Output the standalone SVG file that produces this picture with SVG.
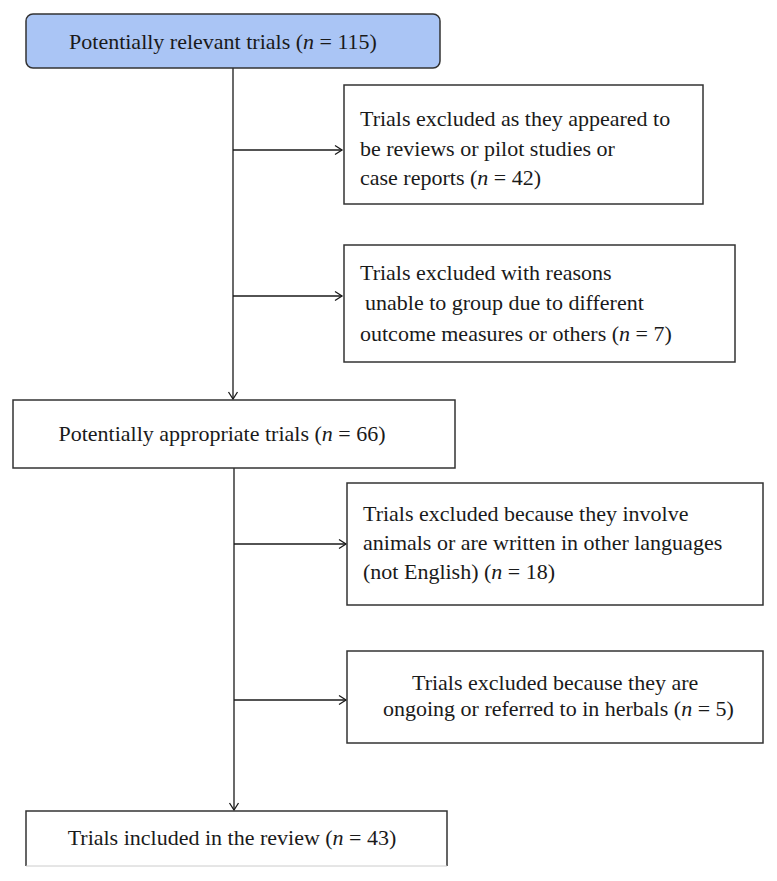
<svg xmlns="http://www.w3.org/2000/svg" width="777" height="881" viewBox="0 0 777 881">
<style>
.box{fill:#fff;stroke:#333;stroke-width:1.5}
.start{fill:#aac5f5;stroke:#333;stroke-width:1.5}
.t{font-family:"Liberation Serif","Times New Roman",serif;font-size:22px;fill:#1a1a1a}
.c{text-anchor:middle}
.ln{stroke:#1a1a1a;stroke-width:1.3;fill:none}
</style>
<defs>
<marker id="ah" markerUnits="userSpaceOnUse" markerWidth="12" markerHeight="12" viewBox="0 0 12 12" refX="10" refY="6" orient="auto">
<path d="M3,1.5 L10,6 L3,10.5" fill="none" stroke="#1a1a1a" stroke-width="1.3"/>
</marker>
</defs>
<g id="connectors">
<line class="ln" x1="233" y1="68" x2="233" y2="399" marker-end="url(#ah)"/>
<line class="ln" x1="233" y1="150" x2="342" y2="150" marker-end="url(#ah)"/>
<line class="ln" x1="233" y1="296" x2="342" y2="296" marker-end="url(#ah)"/>
<line class="ln" x1="234" y1="468" x2="234" y2="810" marker-end="url(#ah)"/>
<line class="ln" x1="234" y1="544" x2="346" y2="544" marker-end="url(#ah)"/>
<line class="ln" x1="234" y1="700" x2="346" y2="700" marker-end="url(#ah)"/>
</g>
<g id="n1">
<rect class="start" x="26" y="14" width="414" height="54" rx="7"/>
<text class="t c" x="223" y="49">Potentially relevant trials (<tspan font-style="italic">n</tspan> = 115)</text>
</g>
<g id="n2">
<rect class="box" x="344" y="85" width="359" height="119"/>
<text class="t" x="360" y="126">Trials excluded as they appeared to</text>
<text class="t" x="360" y="156">be reviews or pilot studies or</text>
<text class="t" x="360" y="185">case reports (<tspan font-style="italic">n</tspan> = 42)</text>
</g>
<g id="n3">
<rect class="box" x="344" y="245" width="391" height="117"/>
<text class="t" x="360" y="280">Trials excluded with reasons</text>
<text class="t" x="365" y="310">unable to group due to different</text>
<text class="t" x="360" y="341">outcome measures or others (<tspan font-style="italic">n</tspan> = 7)</text>
</g>
<g id="n4">
<rect class="box" x="13" y="400" width="442" height="68"/>
<text class="t c" x="222" y="441">Potentially appropriate trials (<tspan font-style="italic">n</tspan> = 66)</text>
</g>
<g id="n5">
<rect class="box" x="347" y="483" width="416" height="122"/>
<text class="t" x="363" y="521">Trials excluded because they involve</text>
<text class="t" x="363" y="550">animals or are written in other languages</text>
<text class="t" x="363" y="579">(not English) (<tspan font-style="italic">n</tspan> = 18)</text>
</g>
<g id="n6">
<rect class="box" x="347" y="651" width="416" height="92"/>
<text class="t" x="412" y="690">Trials excluded because they are</text>
<text class="t" x="383" y="716">ongoing or referred to in herbals (<tspan font-style="italic">n</tspan> = 5)</text>
</g>
<g id="n7">
<path d="M26,866 L26,811 L447,811 L447,866" fill="#fff" stroke="#333" stroke-width="1.5"/>
<line x1="26" y1="866" x2="447" y2="866" stroke="#ccc" stroke-width="1"/>
<text class="t c" x="232" y="845">Trials included in the review (<tspan font-style="italic">n</tspan> = 43)</text>
</g>
</svg>
